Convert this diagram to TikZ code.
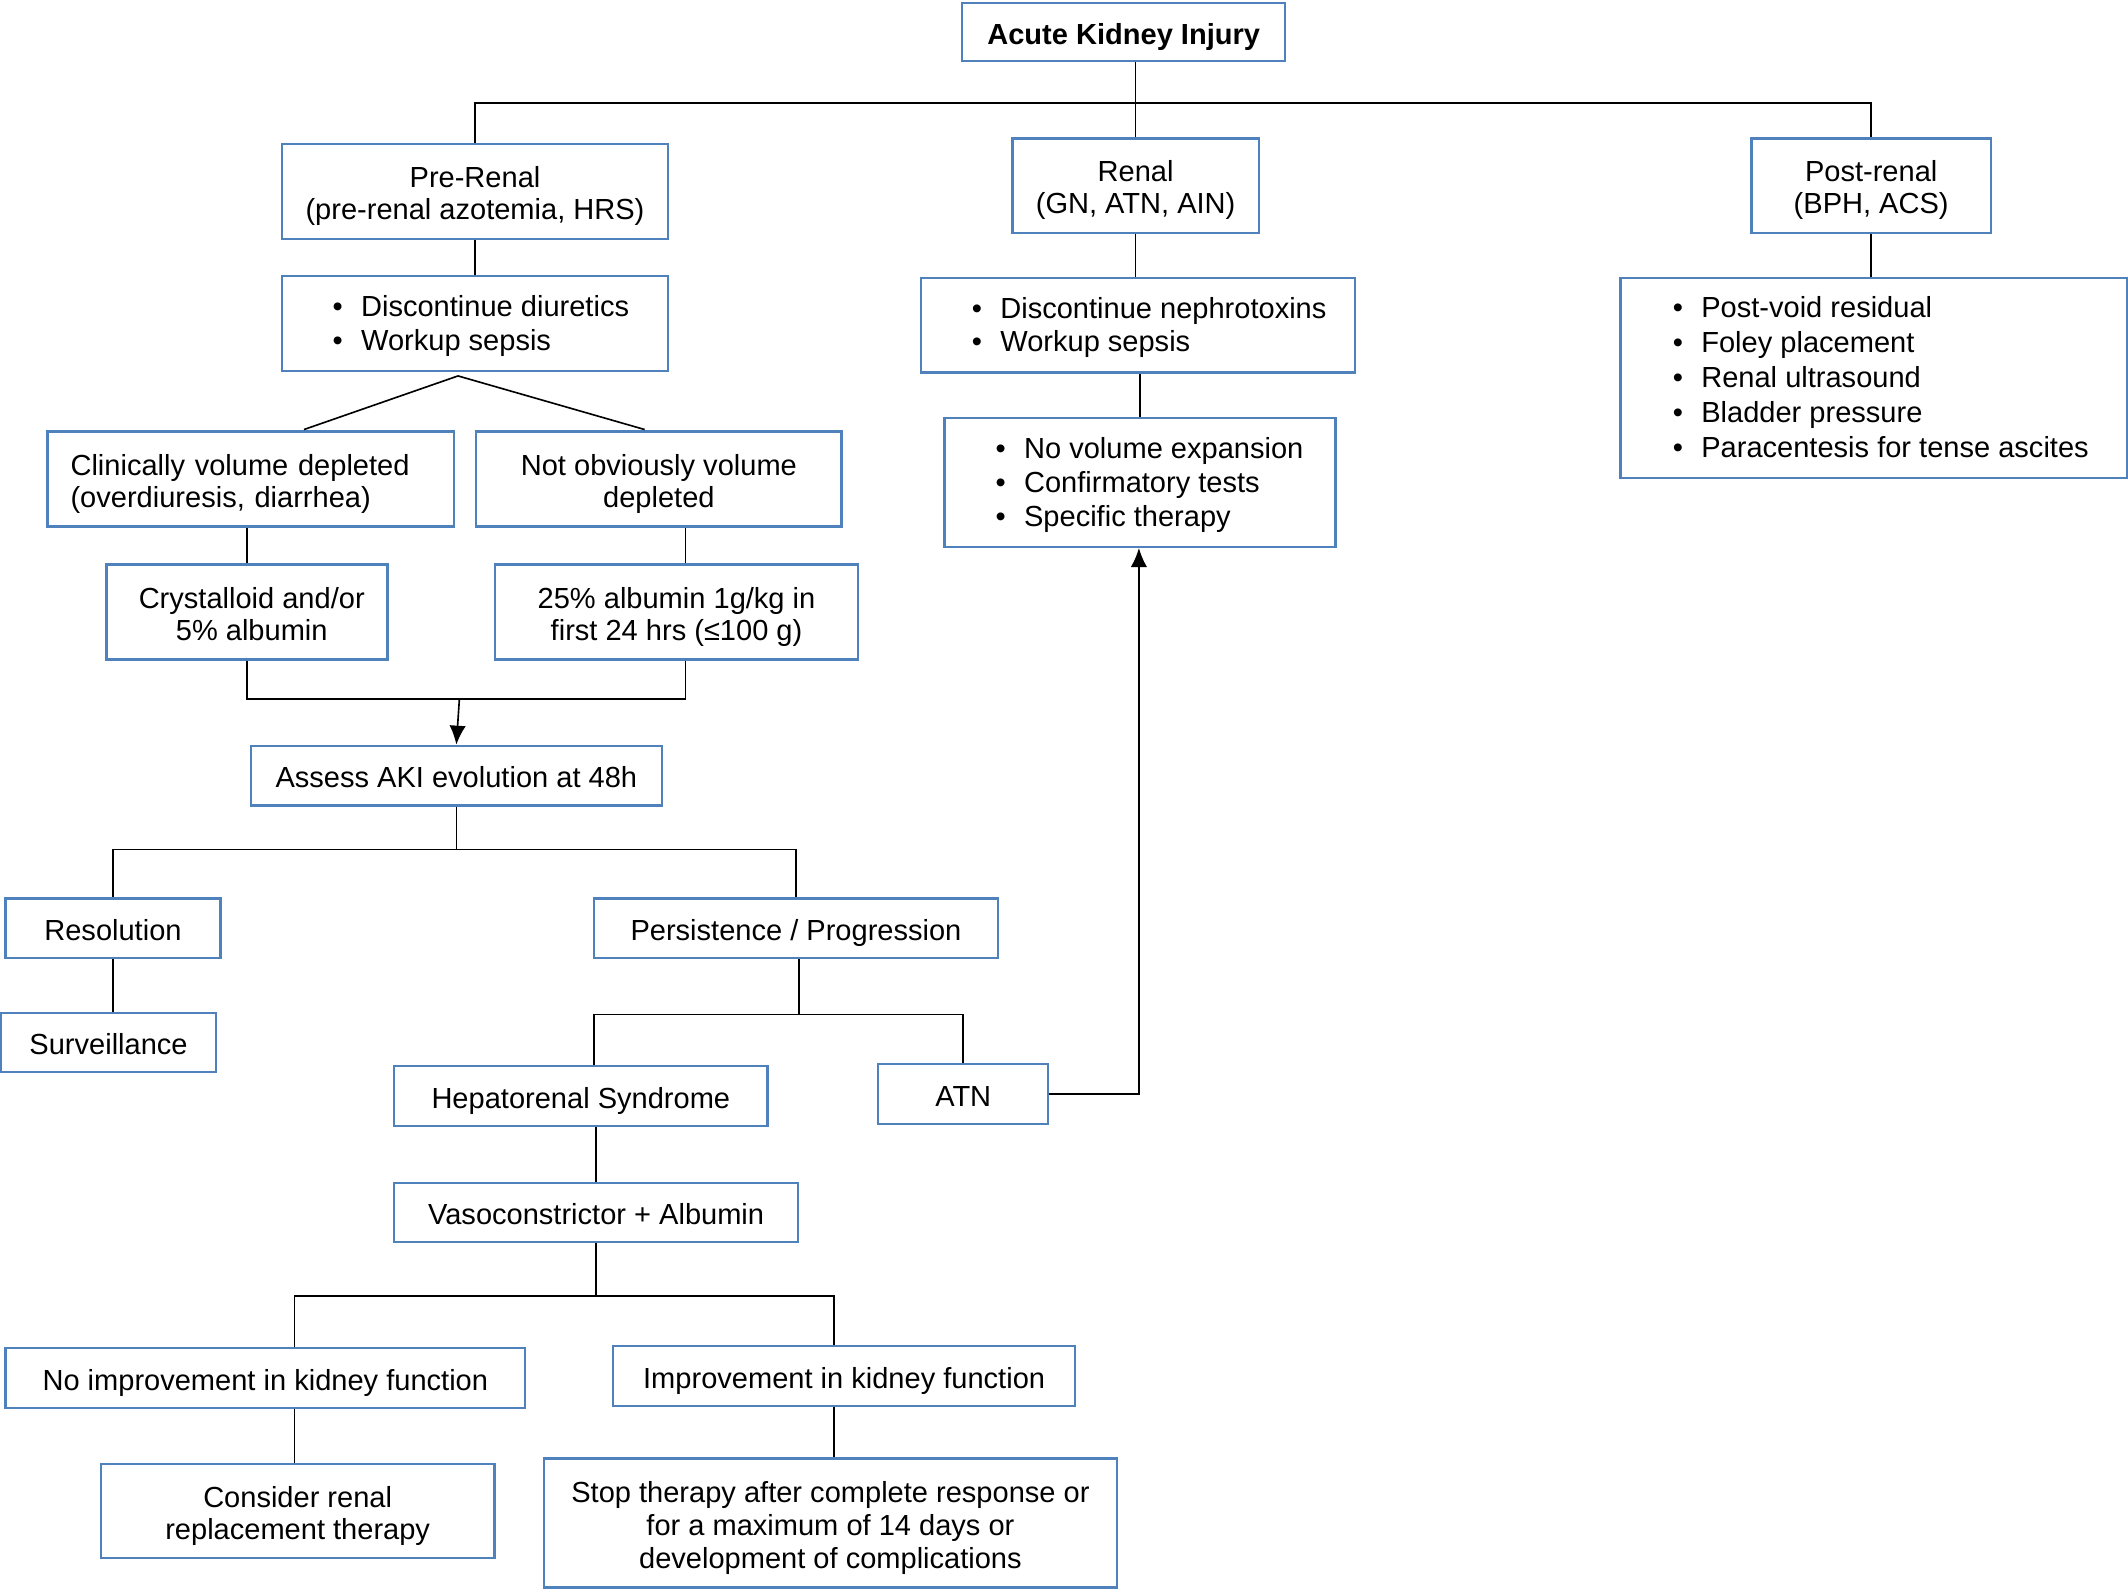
\documentclass[tikz,border=0pt]{standalone}
\usepackage{fontspec}
\setmainfont{Liberation Sans}
\usetikzlibrary{arrows.meta,calc}
\definecolor{boxblue}{RGB}{79,129,189}
\newcommand\kst{\rule[-2.2pt]{0pt}{11.6pt}}
\newcommand\kstt{\rule[-2.2pt]{0pt}{13.4pt}}
\newcommand\bulitem{\kst\makebox[10.5pt][l]{\textbullet}}
\begin{document}
\begin{tikzpicture}[x=0.5pt,y=-0.5pt,
  box/.style={draw=boxblue, line width=0.8pt, rectangle, inner sep=0pt, align=center, font=\fontsize{10.7}{11.8}\selectfont, execute at begin node=\kstt},
  btext/.style={inner sep=0pt, align=left, anchor=west, font=\fontsize{10.7}{12.5}\selectfont, execute at begin node=\kstt},
  conn/.style={draw=black, line width=0.6pt},
  arr/.style={conn, -{Latex[length=7pt,width=6pt]}}]
\useasboundingbox (0,0) rectangle (1568,1171);

% boxes
\node[box, minimum width=119pt, minimum height=21.5pt, font=\bfseries\fontsize{10.7}{11.8}\selectfont] (aki) at (828,23.5) {Acute Kidney Injury};
\node[box, minimum width=142.5pt, minimum height=35pt] (pre) at (350,141) {\kstt Pre-Renal\\\kst(pre-renal azotemia, HRS)};
\node[box, minimum width=90.75pt, minimum height=34.75pt] (renal) at (836.75,136.75) {\kstt Renal\\\kst(GN, ATN, AIN)};
\node[box, minimum width=88.25pt, minimum height=34.75pt] (post) at (1378.75,136.75) {\kstt Post-renal\\\kst(BPH, ACS)};

\node[box, minimum width=142.5pt, minimum height=35pt] (diur) at (350,238.5) {};
\node[btext] (diurt) at ([xshift=19pt]diur.west) {\bulitem Discontinue diuretics\\\bulitem Workup sepsis};

\node[box, minimum width=160pt, minimum height=34.75pt] (neph) at (838.5,239.75) {};
\node[btext, font=\fontsize{10.7}{12.1}\selectfont] (nepht) at ([xshift=19pt]neph.west) {\bulitem Discontinue nephrotoxins\\\bulitem Workup sepsis};

\node[box, minimum width=186.5pt, minimum height=73.5pt] (postb) at (1380.5,278.5) {};
\node[btext, font=\fontsize{10.7}{12.9}\selectfont] (postbt) at ([xshift=19.5pt]postb.west) {\bulitem Post-void residual\\\bulitem Foley placement\\\bulitem Renal ultrasound\\\bulitem Bladder pressure\\\bulitem Paracentesis for tense ascites};

\node[box, minimum width=149.75pt, minimum height=35pt, align=left, inner xsep=8.5pt, text width=132.75pt] (clin) at (184.75,353) {Clinically volume depleted\\\kst(overdiuresis, diarrhea)};
\node[box, minimum width=134.5pt, minimum height=35pt] (notob) at (485.5,353) {\kstt Not obviously volume\\\kst depleted};

\node[box, minimum width=144pt, minimum height=47.5pt] (novol) at (840,355.5) {};
\node[btext] (novolt) at ([xshift=19pt]novol.west) {\bulitem No volume expansion\\\bulitem Confirmatory tests\\\bulitem Specific therapy};

\node[box, minimum width=103.5pt, minimum height=35pt] (cryst) at (182,451) {\kstt\hspace*{3.5pt}Crystalloid and/or\\\kst\hspace*{3.5pt}5\% albumin};
\node[box, minimum width=134pt, minimum height=35pt] (alb) at (498.5,451) {\kstt 25\% albumin 1g/kg in\\\kst first 24 hrs (≤100 g)};

\node[box, minimum width=151.25pt, minimum height=22pt] (assess) at (336.25,571.5) {Assess AKI evolution at 48h};
\node[box, minimum width=79.25pt, minimum height=22pt] (resol) at (83.25,684) {Resolution};
\node[box, minimum width=149pt, minimum height=22pt] (persist) at (586.5,684) {Persistence / Progression};
\node[box, minimum width=79pt, minimum height=21.85pt] (surv) at (80,768.15) {Surveillance};
\node[box, minimum width=137.5pt, minimum height=22pt] (hrs) at (428,807.6) {Hepatorenal Syndrome};
\node[box, minimum width=62.75pt, minimum height=22pt] (atn) at (709.75,806) {ATN};
\node[box, minimum width=148.75pt, minimum height=21.8pt] (vaso) at (439.25,893.4) {Vasoconstrictor + Albumin};
\node[box, minimum width=191.5pt, minimum height=21.9pt] (noimp) at (195.5,1015.3) {No improvement in kidney function};
\node[box, minimum width=170.3pt, minimum height=21.9pt] (imp) at (622,1013.8) {Improvement in kidney function};
\node[box, minimum width=145pt, minimum height=34.75pt] (crrt) at (219.35,1113.25) {\kstt Consider renal\\\kst replacement therapy};
\node[box, minimum width=210.9pt, minimum height=47.5pt, font=\fontsize{10.7}{12.2}\selectfont] (stop) at (611.9,1122.2) {\kstt Stop therapy after complete response or\\\kst for a maximum of 14 days or\\\kst development of complications};

% connectors
\coordinate (topbus) at (0,76);
\draw[conn] (aki.south -| renal.north) -- (renal.north);
\draw[conn] (pre.north) -- (pre.north |- topbus) -- (topbus -| post.north) -- (post.north);
\draw[conn] (pre.south) -- (diur.north);
\draw[conn] (renal.south) -- (renal.south |- neph.north);
\draw[conn] (post.south) -- (post.south |- postb.north);

\coordinate (fan) at (337.5,277);
\coordinate (fanL) at (224,316.5);
\coordinate (fanR) at (475,316.5);
\draw[conn] (fanL) -- (fan) -- (fanR);

\draw[conn] (neph.south -| novol.north) -- (novol.north);
\draw[conn] (clin.south -| cryst.north) -- (cryst.north);
\coordinate (ax) at (505,0);
\draw[conn] (notob.south -| ax) -- (alb.north -| ax);
\coordinate (mergey) at (0,515);
\draw[conn] (cryst.south) -- (cryst.south |- mergey) -- (mergey -| ax) -- (alb.south -| ax);
\coordinate (mergemid) at (338.5,515);
\draw[arr] (mergemid) -- (assess.north);

\coordinate (bus2) at (0,626);
\draw[conn] (assess.south) -- (assess.south |- bus2);
\draw[conn] (resol.north) -- (resol.north |- bus2) -- (bus2 -| persist.north) -- (persist.north);
\draw[conn] (resol.south) -- (resol.south |- surv.north);

\coordinate (px) at (588.5,0);
\coordinate (hx) at (437.5,0);
\coordinate (bus3) at (0,747.5);
\draw[conn] (persist.south -| px) -- (bus3 -| px);
\draw[conn] (hrs.north -| hx) -- (bus3 -| hx) -- (bus3 -| atn.north) -- (atn.north);
\draw[conn] (hrs.south -| vaso.north) -- (vaso.north);

\coordinate (bus4) at (0,955);
\coordinate (nx) at (217,0);
\coordinate (ix) at (614.5,0);
\draw[conn] (vaso.south) -- (vaso.south |- bus4);
\draw[conn] (noimp.north -| nx) -- (bus4 -| nx) -- (bus4 -| ix) -- (imp.north -| ix);
\draw[conn] (noimp.south -| nx) -- (crrt.north -| nx);
\draw[conn] (imp.south -| ix) -- (stop.north -| ix);

\coordinate (rx) at (839.2,0);
\draw[arr] (atn.east) -- (atn.east -| rx) -- (novol.south -| rx);
\end{tikzpicture}
\end{document}
